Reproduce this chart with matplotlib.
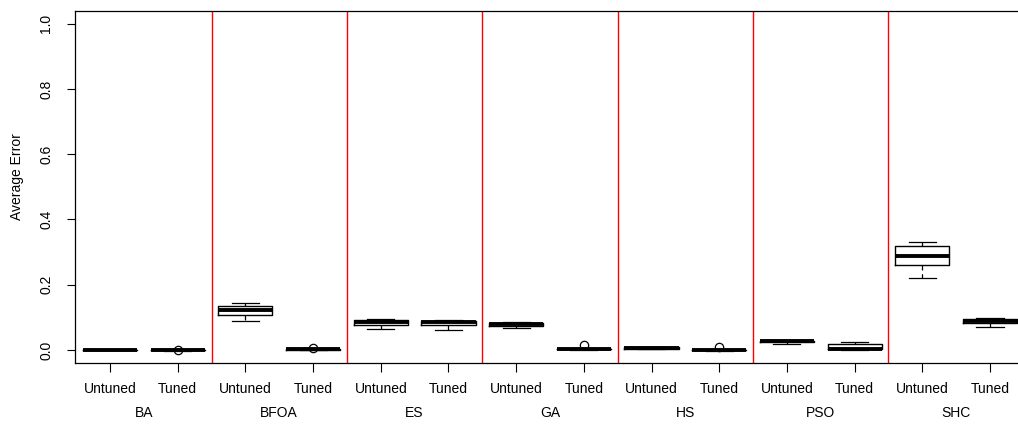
import matplotlib
matplotlib.use("Agg")
import matplotlib.pyplot as plt

plt.rcParams['font.family'] = ['Liberation Sans', 'DejaVu Sans']

algorithms = ["BA", "BFOA", "ES", "GA", "HS", "PSO", "SHC"]
conditions = ["Untuned", "Tuned"]

# Five-number summaries per box, ordered algorithm by algorithm (Untuned, Tuned)
whisker_low = [0.000, -0.002, 0.090, 0.001, 0.065, 0.061, 0.0675, 0.001, 0.003, -0.002, 0.018, 0.000, 0.222, 0.0715]
q1 =          [0.000, -0.001, 0.106, 0.001, 0.076, 0.0776, 0.0736, 0.002, 0.004, -0.001, 0.024, 0.002, 0.259, 0.082]
medians =     [0.001,  0.000, 0.122, 0.002, 0.086, 0.085, 0.080, 0.003, 0.006,  0.000, 0.027, 0.004, 0.289, 0.090]
q3 =          [0.001,  0.000, 0.136, 0.003, 0.092, 0.090, 0.084, 0.004, 0.008,  0.000, 0.028, 0.018, 0.318, 0.094]
whisker_high = [0.001, 0.001, 0.143, 0.004, 0.095, 0.093, 0.085, 0.005, 0.009,  0.001, 0.029, 0.025, 0.331, 0.099]
outliers = [[], [0.000], [], [0.006], [], [], [], [0.016], [], [0.008], [], [], [], []]

stats = []
for i in range(len(medians)):
    stats.append(dict(whislo=whisker_low[i], q1=q1[i], med=medians[i],
                      q3=q3[i], whishi=whisker_high[i], fliers=outliers[i]))

positions = list(range(1, len(stats) + 1))

fig = plt.figure(figsize=(10.18, 4.25), dpi=100)
ax = fig.add_axes([75 / 1018, 62 / 425, 950 / 1018, (363 - 10.7) / 425])

ax.bxp(stats, positions=positions, widths=0.8, showfliers=True,
       boxprops=dict(color="black", linewidth=1.0),
       medianprops=dict(color="black", linewidth=2.8, solid_capstyle="butt"),
       whiskerprops=dict(color="black", linewidth=0.9, linestyle=(0, (4, 3))),
       capprops=dict(color="black", linewidth=0.9),
       flierprops=dict(marker="o", markerfacecolor="none", markeredgecolor="black",
                       markersize=6, markeredgewidth=0.9),
       capwidths=0.4)

# Red separators between algorithm groups
for k in range(1, len(algorithms)):
    ax.axvline(2 * k + 0.5, color="red", linewidth=1.0)

ax.set_xlim(0.483, 14.517)
ax.set_ylim(-0.04, 1.04)

ax.set_yticks([0.0, 0.2, 0.4, 0.6, 0.8, 1.0])
ax.set_yticklabels(["0.0", "0.2", "0.4", "0.6", "0.8", "1.0"], rotation=90, va="center")
ax.set_xticks(positions)
ax.set_xticklabels(conditions * len(algorithms))
ax.tick_params(axis="both", direction="out", width=0.8, labelsize=10, colors="black")
ax.tick_params(axis="x", length=6.5, pad=7)
ax.tick_params(axis="y", length=5.5, pad=10)

for s in ax.spines.values():
    s.set_linewidth(0.9)

# Algorithm names below the condition labels, centred on each pair
for g, name in enumerate(algorithms):
    x_fig = ax.transData.transform((2 * g + 1.5, 0))[0] / (fig.dpi * fig.get_figwidth())
    fig.text(x_fig, 1 - 413 / 425, name, fontsize=10, ha="center", va="center")

fig.text(17 / 1018, 1 - 177 / 425, "Average Error", rotation=90, fontsize=10,
         ha="center", va="center")

fig.savefig("out.png", dpi=100)
